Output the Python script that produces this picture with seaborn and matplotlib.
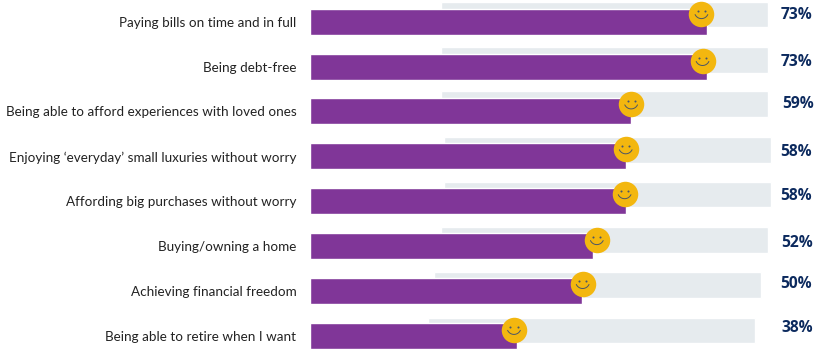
import matplotlib
matplotlib.use("Agg")
import matplotlib.pyplot as plt
import numpy as np
import pandas as pd
import seaborn as sns

# Survey results: share of respondents per financial goal
goals = [
    "Paying bills on time and in full",
    "Being debt-free",
    "Being able to afford experiences with loved ones",
    "Enjoying ‘everyday’ small luxuries without worry",
    "Affording big purchases without worry",
    "Buying/owning a home",
    "Achieving financial freedom",
    "Being able to retire when I want",
]
shares = [73, 73, 59, 58, 58, 52, 50, 38]

# Pale background band behind each bar
band_start = [24.2, 24.2, 24.2, 24.6, 24.6, 24.2, 22.9, 21.8]
band_end = [84.2, 84.2, 84.2, 84.6, 84.6, 84.2, 82.9, 81.8]

# Where each smiley sits along the value axis
smiley_at = [71.9, 72.1, 59.0, 58.0, 57.8, 52.7, 50.1, 37.5]

W, H = 817, 360
PX_PER_UNIT = 5.45
ROW_PX = 44.9
LEFT_PX = 309.6
TOP_PX = 21.6

sns.set_theme(style="white")
plt.rcParams["font.family"] = ["Lato", "DejaVu Sans"]

fig = plt.figure(figsize=(W / 100, H / 100), dpi=100, facecolor="white")
ax = fig.add_axes([LEFT_PX / W, 0, 1 - LEFT_PX / W, 1])

rows = np.arange(len(goals), dtype=float)
px_y = ROW_PX ** -1  # one pixel vertically, in row units
px_x = 1 / PX_PER_UNIT  # one pixel horizontally, in value units

band_lift = np.array([7, 6.5, 7.5, 6.5, 6.5, 6, 6, 5.5]) * px_y
ax.barh(rows - band_lift, np.subtract(band_end, band_start), left=band_start,
        height=25.5 * px_y, color="#e6ebee", zorder=1)

frame = pd.DataFrame({"goal": rows, "share": shares})
sns.barplot(data=frame, x="share", y="goal", orient="y", native_scale=True,
            color="#803698", saturation=1, width=26 * px_y, ax=ax, zorder=2)

ax.set_xlim(0, (W - LEFT_PX) / PX_PER_UNIT)
ax.set_ylim((H - TOP_PX) / ROW_PX, -TOP_PX / ROW_PX)
ax.set_xlabel("")
ax.set_ylabel("")
ax.set_xticks([])
ax.set_yticks(rows)
ax.set_yticklabels(goals, fontsize=9.75, color="#222222")
ax.tick_params(axis="y", length=0, pad=9.5)
for spine in ax.spines.values():
    spine.set_visible(False)

# Smiley faces at the end of each bar
smiley_lift = np.array([7.5, 5.5, 7, 7, 7, 6, 7, 6]) * px_y
smiley_y = rows - smiley_lift
ax.scatter(smiley_at, smiley_y, s=(25.5 * 0.72) ** 2, color="#f3b70f",
           linewidths=0, zorder=3, clip_on=False)
eye_dx = 3.6 * px_x
eye_dy = 3.2 * px_y
ax.scatter(np.r_[np.array(smiley_at) - eye_dx, np.array(smiley_at) + eye_dx],
           np.r_[smiley_y - eye_dy, smiley_y - eye_dy],
           s=2.2, color="#4a5568", linewidths=0, zorder=4)
theta = np.linspace(np.radians(25), np.radians(155), 30)
for cx, cy in zip(smiley_at, smiley_y):
    ax.plot(cx + 7 * np.cos(theta) * px_x, cy + (7 * np.sin(theta) - 2.5) * px_y,
            color="#4a5568", lw=0.7, zorder=4, solid_capstyle="round")

# Percentage labels down the right-hand side
label_x = (np.array([796.5, 796.5, 798.5, 796.5, 796.5, 797.5, 796.5, 797.5]) - LEFT_PX) * px_x
label_lift = np.array([7, 5, 7, 4, 5, 3, 7, 8]) * px_y
for x, y, share in zip(label_x, rows - label_lift, shares):
    ax.text(x, y, f"{share}%", ha="center", va="center", fontsize=11.2,
            fontweight="bold", family=["Open Sans", "DejaVu Sans"],
            color="#0c2a5e", clip_on=False)

fig.savefig("out.png", dpi=100, facecolor="white")
